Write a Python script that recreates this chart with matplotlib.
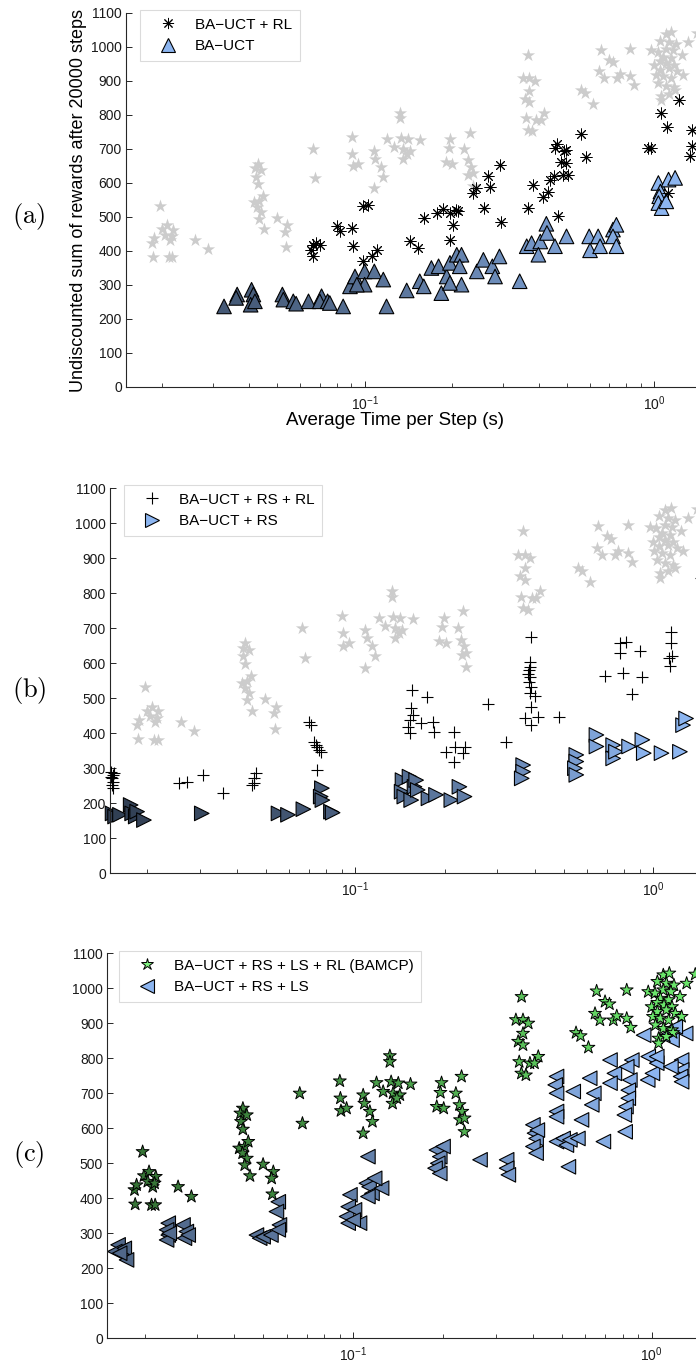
import numpy as np
import matplotlib.pyplot as plt
from matplotlib.lines import Line2D

plt.rcParams['font.family'] = ['Liberation Sans', 'DejaVu Sans']
plt.rcParams['mathtext.fontset'] = 'custom'
plt.rcParams['mathtext.rm'] = 'Liberation Sans'
plt.rcParams['mathtext.it'] = 'Liberation Sans:italic'
plt.rcParams['mathtext.bf'] = 'Liberation Sans:bold'

# BA-UCT + RS + LS + RL (BAMCP): average time per step (s) and reward
bamcp_t = [0.0197, 0.0185, 0.0188, 0.0186, 0.0199, 0.0207, 0.0205, 0.0211, 0.0217, 0.0218,
           0.0213, 0.0216, 0.0259, 0.0287,
           0.0427, 0.0419, 0.0440, 0.0421, 0.0427, 0.0415, 0.0433, 0.0445, 0.0426, 0.0440,
           0.0433, 0.0451, 0.0499, 0.0540, 0.0533, 0.0536, 0.0662, 0.0676,
           0.0902, 0.0906, 0.0910, 0.0950, 0.108, 0.109, 0.1137, 0.116, 0.108, 0.1327,
           0.1327, 0.1197, 0.126, 0.134, 0.1416, 0.136, 0.1433, 0.1355, 0.1556, 0.140,
           0.1977, 0.196, 0.1905, 0.201, 0.2208, 0.2307, 0.227, 0.232, 0.228, 0.236, 0.236,
           0.3666, 0.3508, 0.3706, 0.386, 0.3706, 0.357, 0.3706, 0.360, 0.391, 0.417, 0.366,
           0.379, 0.405,
           0.654, 0.825, 0.698, 0.722, 0.646, 0.671, 0.744, 0.764, 0.825, 0.851, 0.558, 0.578,
           0.614,
           1.094, 1.146, 1.045, 1.120, 1.188, 1.310, 0.974, 1.026, 1.094, 1.160, 1.245, 1.070,
           1.140, 1.000, 1.045, 1.100, 1.170, 1.045, 1.120, 1.200, 1.010, 1.070, 1.140, 1.260,
           1.030, 1.094, 1.170, 1.180, 1.055, 1.120, 1.055, 1.400]
bamcp_r = [533, 424, 438, 383, 464, 476, 448, 381, 381, 462,
           433, 443, 433, 405,
           657, 643, 638, 619, 597, 543, 548, 562, 529, 514,
           495, 464, 497, 476, 457, 412, 700, 614,
           735, 686, 650, 657, 695, 671, 648, 619, 586, 807,
           790, 730, 705, 733, 729, 700, 695, 671, 726, 686,
           730, 702, 662, 657, 700, 748, 667, 648, 624, 629, 590,
           976, 910, 910, 900, 871, 848, 838, 790, 786, 805, 757,
           752, 786,
           992, 995, 962, 955, 928, 909, 909, 921, 914, 888, 873, 864,
           831,
           1038, 1043, 1019, 1014, 1009, 1014, 990, 986, 995, 990, 976, 971,
           967, 947, 959, 952, 947, 933, 938, 928, 919, 914, 909, 919,
           895, 885, 881, 873, 857, 862, 843, 1040]

# BA-UCT + RL
rl_t = [0.0661, 0.0663, 0.0655, 0.070, 0.068, 0.0805, 0.0822, 0.0902, 0.0914, 0.0989,
        0.103, 0.0989, 0.1057, 0.110, 0.1435, 0.153, 0.1597, 0.1774, 0.1868, 0.197,
        0.2066, 0.210, 0.2025, 0.197, 0.237, 0.242, 0.267, 0.270, 0.258, 0.293,
        0.296, 0.367, 0.380, 0.412, 0.430, 0.436, 0.450, 0.460, 0.454, 0.4897,
        0.494, 0.478, 0.497, 0.485, 0.503, 0.466, 0.560, 0.580, 0.954, 0.978,
        1.052, 1.110, 1.217, 1.114, 1.350, 1.350, 1.330]
rl_r = [419, 384, 404, 417, 425, 473, 458, 468, 414, 531,
        536, 370, 384, 404, 428, 409, 497, 512, 524, 512,
        522, 517, 477, 433, 571, 585, 620, 588, 526, 652,
        484, 526, 595, 559, 575, 610, 621, 716, 703, 693,
        698, 662, 659, 624, 624, 504, 745, 675, 703, 703,
        806, 764, 845, 571, 757, 708, 678]

# BA-UCT
ba_t = [0.0327, 0.0363, 0.0360, 0.0407, 0.0413, 0.0404, 0.0418, 0.052, 0.0524, 0.0567,
        0.058, 0.064, 0.071, 0.070, 0.0745, 0.0758, 0.0843, 0.089,
        0.0926, 0.100, 0.108, 0.116, 0.100, 0.094, 0.119, 0.1397, 0.155, 0.160,
        0.170, 0.180, 0.184, 0.192, 0.197, 0.208, 0.216, 0.213, 0.216, 0.197,
        0.244, 0.257, 0.276, 0.292, 0.282, 0.343, 0.3627, 0.377, 0.404, 0.424,
        0.426, 0.398, 0.454, 0.4977, 0.596, 0.640, 0.600, 0.650, 0.720, 0.740,
        0.720, 0.740,
        1.033, 1.050, 1.040, 1.033, 1.060, 1.100, 1.120, 1.180]
ba_r = [237, 272, 262, 286, 272, 242, 252, 272, 257, 252,
        245, 252, 267, 252, 252, 247, 237, 296,
        325, 340, 340, 316, 301, 301, 237, 284, 311, 296,
        350, 355, 276, 325, 365, 389, 389, 355, 301, 306,
        340, 374, 355, 384, 325, 311, 414, 423, 428, 480,
        453, 389, 414, 443, 443, 443, 402, 414, 463, 477,
        443, 414,
        600, 575, 561, 541, 526, 546, 610, 615]

# BA-UCT + RS + RL
rsrl_t = [0.0151, 0.0153, 0.0152, 0.0154, 0.0152, 0.0153, 0.0155, 0.0151,
          0.0256, 0.0272, 0.0308, 0.036, 0.0457, 0.0463, 0.0457, 0.0451,
          0.070, 0.0708, 0.0728, 0.0736, 0.0745, 0.0755, 0.0764, 0.0745,
          0.155, 0.1737, 0.154, 0.156, 0.152, 0.150, 0.152, 0.166, 0.182, 0.183,
          0.214, 0.2166, 0.2016, 0.230, 0.214, 0.233, 0.2786, 0.3195,
          0.388, 0.386, 0.382, 0.386, 0.382, 0.390, 0.386, 0.400, 0.390, 0.3726,
          0.390, 0.410, 0.482, 0.386, 0.380,
          0.773, 0.808, 0.776, 0.900, 0.687, 0.792, 0.920, 0.850,
          1.144, 1.150, 1.160, 1.130, 1.135, 1.450]
rsrl_r = [290, 281, 271, 262, 252, 243, 285, 276,
          257, 262, 281, 230, 271, 285, 257, 252,
          433, 423, 376, 366, 362, 352, 347, 295,
          523, 502, 471, 452, 438, 419, 400, 428, 433, 404,
          404, 362, 347, 343, 319, 362, 483, 376,
          674, 604, 580, 561, 547, 533, 514, 506, 476, 442,
          423, 445, 445, 590, 570,
          658, 661, 628, 636, 563, 573, 559, 511,
          688, 658, 619, 614, 592, 843]

# BA-UCT + RS
rs_t = [0.0153, 0.0156, 0.0162, 0.0176, 0.0178, 0.0183, 0.0185, 0.0195, 0.0305, 0.0552,
        0.0594, 0.0669, 0.0772, 0.0765, 0.0775, 0.0828, 0.0839,
        0.144, 0.143, 0.146, 0.152, 0.158, 0.160, 0.154, 0.162, 0.176, 0.1866,
        0.210, 0.2236, 0.2326,
        0.366, 0.366, 0.362, 0.552, 0.552, 0.546, 0.552, 0.645, 0.645, 0.734,
        0.734, 0.750, 0.830, 0.920, 0.930, 1.067, 1.230, 1.260, 1.290]
rs_r = [171, 162, 167, 195, 171, 162, 176, 152, 171, 171,
        167, 183, 243, 219, 209, 176, 173,
        266, 233, 219, 276, 247, 266, 209, 238, 214, 224,
        209, 247, 219,
        309, 290, 271, 338, 319, 300, 281, 395, 362, 366,
        328, 347, 362, 381, 343, 343, 347, 423, 442]

# BA-UCT + RS + LS
rsls_t = [0.0163, 0.0167, 0.0159, 0.0171, 0.0174, 0.0165,
          0.0240, 0.0237, 0.0240, 0.0237, 0.0242, 0.0269, 0.0276, 0.0272, 0.0280,
          0.0474, 0.0486, 0.0499, 0.0530, 0.0561, 0.0553, 0.0566, 0.0561,
          0.0975, 0.0962, 0.0950, 0.0962, 0.101, 0.105, 0.100,
          0.112, 0.1107, 0.113, 0.1156, 0.1245, 0.112, 0.118,
          0.190, 0.195, 0.192, 0.188, 0.195, 0.200,
          0.266, 0.3266, 0.3266, 0.331,
          0.400, 0.405, 0.410, 0.400, 0.410, 0.414,
          0.480, 0.505, 0.518, 0.532, 0.566, 0.526, 0.689,
          0.480, 0.475, 0.480, 0.546, 0.620, 0.640, 0.630, 0.480, 0.480, 0.582,
          0.725, 0.750, 0.725, 0.858, 0.825, 0.845, 0.835, 0.835, 0.820, 0.810, 0.815,
          0.974, 0.970, 1.006, 1.040, 1.040, 0.940, 1.120, 1.300, 1.260, 1.260, 1.250,
          1.260, 1.200, 1.170, 1.160]
rsls_r = [267, 252, 248, 257, 224, 243,
          329, 310, 295, 281, 300, 324, 305, 286, 295,
          295, 286, 290, 295, 390, 362, 324, 310,
          410, 376, 348, 329, 367, 329, 338,
          519, 443, 433, 414, 429, 405, 457,
          538, 519, 500, 486, 471, 548,
          510, 510, 486, 467,
          610, 586, 571, 548, 529, 595,
          562, 571, 552, 567, 571, 490, 562,
          748, 724, 700, 705, 743, 700, 667, 648, 633, 624,
          795, 757, 729, 795, 776, 738, 709, 686, 662, 638, 590,
          805, 738, 757, 786, 805, 866, 866, 871, 795, 767, 748,
          733, 890, 852, 776]

W, H = 696.0, 1366.0
fig = plt.figure(figsize=(W / 100, H / 100), dpi=100)

tri_blue = np.array([0.55, 0.71, 0.94])
star_green = np.array([0.42, 0.90, 0.42])
star_gray = (0.80, 0.80, 0.80)


def shaded(base, t, lo):
    # darker fill for the faster (smaller time) runs
    f = (np.log10(t) - np.log10(0.015)) / (-np.log10(0.015))
    f = np.clip(f, 0, 1) ** 1.5
    k = lo + (1 - lo) * f
    return np.clip(np.outer(k, base), 0, 1)


def make_axes(left, bottom, top, x_one, decade):
    # log time axis from 0.015 s to 2 s; pixel layout of the page
    right = x_one + np.log10(2.0) * decade
    ax = fig.add_axes([left / W, 1 - bottom / H, (right - left) / W, (bottom - top) / H])
    ax.set_xscale('log')
    ax.set_xlim(0.015, 2.0)
    ax.set_ylim(0, 1100)
    ax.set_yticks(np.arange(0, 1101, 100))
    ax.spines['top'].set_visible(False)
    ax.spines['right'].set_visible(False)
    for s in ('left', 'bottom'):
        ax.spines[s].set_linewidth(0.8)
        ax.spines[s].set_color('0.15')
    ax.tick_params(which='both', direction='in', top=False, right=False, labelsize=10,
                   color='0.15', labelcolor='0.1')
    ax.tick_params(which='major', length=4.5, width=0.7, pad=3)
    ax.tick_params(which='minor', length=3, width=0.6)
    ax.tick_params(axis='x', pad=5)
    return ax, right


def legend(ax, handles, labels, x, y):
    leg = ax.legend(handles, labels, loc='upper left', bbox_to_anchor=(x, y), fontsize=11,
                    frameon=True, fancybox=False, edgecolor='0.86', framealpha=1,
                    borderpad=0.5, labelspacing=0.5, handlelength=2.6, handletextpad=0.5,
                    borderaxespad=0)
    leg.get_frame().set_linewidth(0.8)
    leg.set_zorder(5)


# (a) BA-UCT with and without the rollout policy
ax, right = make_axes(126, 387, 13, 654.3, 289.6)
ax.scatter(bamcp_t, bamcp_r, marker='*', s=100, color=star_gray, linewidths=0, zorder=1, clip_on=False)
ax.scatter(rl_t, rl_r, marker=(8, 2, 0), s=64, color='k', linewidths=0.7, zorder=3, clip_on=False)
ax.scatter(ba_t, ba_r, marker='^', s=110, c=shaded(tri_blue, np.array(ba_t), 0.45),
           edgecolors='k', linewidths=0.8, zorder=2, clip_on=False)
ax.set_xlabel('Average Time per Step (s)', fontsize=13.5)
ax.xaxis.set_label_coords((395 - 126) / (right - 126), (387 - 412) / 374.0)
ax.set_ylabel('Undiscounted sum of rewards after 20000 steps', fontsize=13)
ax.yaxis.set_label_coords((87 - 126) / (right - 126), 0.5)
legend(ax,
       [Line2D([], [], ls='none', marker=(8, 2, 0), color='k', markersize=8, mew=0.7),
        Line2D([], [], ls='none', marker='^', mfc=tri_blue, mec='k', markersize=10, mew=0.8)],
       ['BA\u2212UCT + RL', 'BA\u2212UCT'], (140 - 126) / (right - 126), 1.008)

# (b) with root sampling
ax, right = make_axes(110, 873.3, 488, 653.3, 297.3)
ax.scatter(bamcp_t, bamcp_r, marker='*', s=100, color=star_gray, linewidths=0, zorder=1, clip_on=False)
ax.scatter(rsrl_t, rsrl_r, marker='+', s=75, color='k', linewidths=0.8, zorder=3, clip_on=False)
ax.scatter(rs_t, rs_r, marker='>', s=110, c=shaded(tri_blue, np.array(rs_t), 0.35),
           edgecolors='k', linewidths=0.8, zorder=2, clip_on=False)
legend(ax,
       [Line2D([], [], ls='none', marker='+', color='k', markersize=9, mew=0.8),
        Line2D([], [], ls='none', marker='>', mfc=tri_blue, mec='k', markersize=10, mew=0.8)],
       ['BA\u2212UCT + RS + RL', 'BA\u2212UCT + RS'], (124 - 110) / (right - 110), 1.008)

# (c) with root sampling and lazy sampling
ax, right = make_axes(107.3, 1338.3, 953.3, 651.7, 298.3)
ax.scatter(rsls_t, rsls_r, marker='<', s=110, c=shaded(tri_blue, np.array(rsls_t), 0.57),
           edgecolors='k', linewidths=0.8, zorder=2, clip_on=False)
ax.scatter(bamcp_t, bamcp_r, marker='*', s=95, c=shaded(star_green, np.array(bamcp_t), 0.5),
           edgecolors='k', linewidths=0.7, zorder=3, clip_on=False)
legend(ax,
       [Line2D([], [], ls='none', marker='*', mfc=(0.5, 0.95, 0.5), mec='k', markersize=9, mew=0.7),
        Line2D([], [], ls='none', marker='<', mfc=tri_blue, mec='k', markersize=10, mew=0.8)],
       ['BA\u2212UCT + RS + LS + RL (BAMCP)', 'BA\u2212UCT + RS + LS'],
       (119 - 107.3) / (right - 107.3), 1.006)

for lab, yc in (('(a)', 217), ('(b)', 690), ('(c)', 1155)):
    fig.text(29 / W, 1 - yc / H, '$\\mathrm{' + lab + '}$', math_fontfamily='cm',
             fontsize=19, ha='center', va='center')

fig.savefig('out.png', dpi=100)
